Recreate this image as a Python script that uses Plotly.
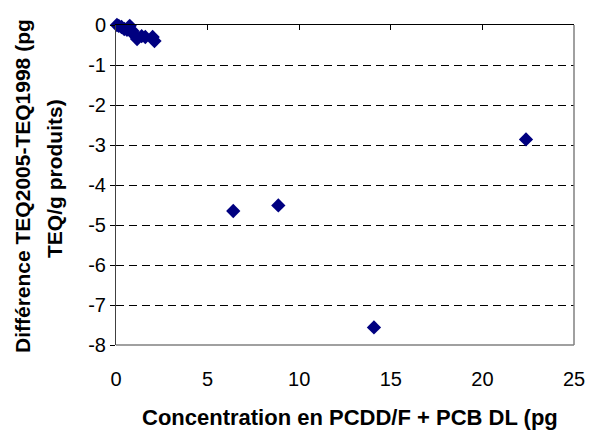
import plotly.graph_objects as go

concentration = [0.05, 0.15, 0.3, 0.45, 0.6, 0.75, 0.9, 1.0, 1.15, 1.4, 1.6, 2.0, 2.1,
                 6.4, 8.86, 14.08, 22.38]
difference = [0.0, -0.02, -0.05, -0.1, -0.12, -0.02, -0.15, -0.25, -0.35, -0.28, -0.3, -0.3, -0.4,
              -4.65, -4.51, -7.56, -2.86]

x_ticks = [0, 5, 10, 15, 20, 25]
y_ticks = [0, -1, -2, -3, -4, -5, -6, -7, -8]

font_family = "Liberation Sans, Arial, sans-serif"

fig = go.Figure()
fig.add_trace(go.Scatter(
    x=concentration, y=difference, mode="markers", cliponaxis=False,
    marker=dict(symbol="diamond", size=11, color="#000080", line=dict(width=0)),
    showlegend=False, hoverinfo="x+y"))
# invisible trace for top axis
fig.add_trace(go.Scatter(x=[0, 25], y=[0, 0], mode="markers", marker=dict(opacity=0),
                         xaxis="x2", showlegend=False, hoverinfo="skip"))

fig.update_layout(
    width=596, height=432,
    margin=dict(l=116, r=22, t=25, b=87),
    paper_bgcolor="white", plot_bgcolor="white",
    font=dict(family=font_family, size=20, color="black"),
    xaxis=dict(range=[0, 25], tickvals=x_ticks, ticktext=[str(v) for v in x_ticks],
               showgrid=False, zeroline=False, showline=False, ticks="",
               ticklabelstandoff=20, tickfont=dict(size=20), automargin=False),
    xaxis2=dict(range=[0, 25], overlaying="x", side="top", tickvals=x_ticks,
                showticklabels=False, ticks="inside", ticklen=5, tickcolor="black",
                showline=True, linecolor="black", linewidth=1, showgrid=False, zeroline=False),
    yaxis=dict(range=[-8, 0], tickvals=y_ticks, ticktext=[str(v) for v in y_ticks],
               showgrid=True, gridcolor="black", gridwidth=1, griddash="8px,5px",
               zeroline=False, showline=True, linecolor="#404040", linewidth=1,
               ticks="outside", ticklen=5, tickcolor="black", tickfont=dict(size=20),
               automargin=False),
    shapes=[
        dict(type="line", xref="paper", yref="paper", x0=0, x1=1, y0=0, y1=0,
             line=dict(color="#808080", width=1.5)),
        dict(type="line", xref="paper", yref="paper", x0=1, x1=1, y0=0, y1=1,
             line=dict(color="#808080", width=1.5)),
    ],
    annotations=[
        dict(text="<b>Différence TEQ2005-TEQ1998 (pg</b>",
             xref="paper", yref="paper", x=0, y=0.5, xanchor="center", yanchor="middle",
             xshift=-94, yshift=-1, textangle=-90, showarrow=False, font=dict(size=21)),
        dict(text="<b>TEQ/g produits)</b>",
             xref="paper", yref="paper", x=0, y=0.5, xanchor="center", yanchor="middle",
             xshift=-62, yshift=6, textangle=-90, showarrow=False, font=dict(size=21)),
        dict(text="<b>Concentration en PCDD/F + PCB DL (pg</b>",
             xref="paper", yref="paper", x=0.5, y=0, xanchor="center", yanchor="middle",
             yshift=-72, xshift=5, showarrow=False, font=dict(size=22)),
    ],
)

fig.write_html("out.html", config={"displayModeBar": False},
               post_script="document.body.style.margin='0';")
